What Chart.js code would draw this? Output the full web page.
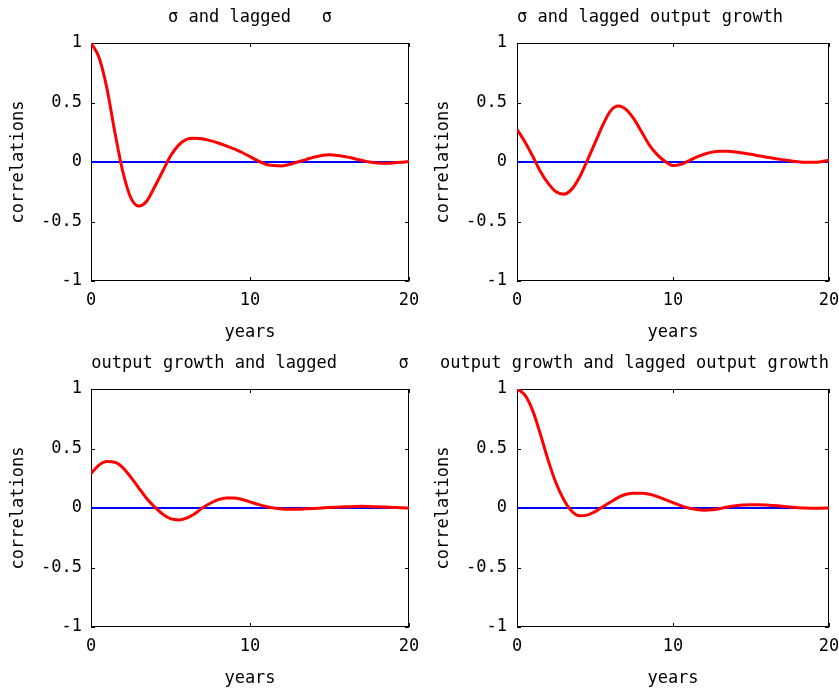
<!DOCTYPE html>
<html>
<head>
<meta charset="utf-8">
<script src="https://cdn.jsdelivr.net/npm/chart.js@4.4.1/dist/chart.umd.min.js"></script>
<style>
  body { margin: 0; background: #fff; }
  #wrap { position: relative; width: 839px; height: 695px; }
  canvas { position: absolute; }
</style>
</head>
<body>
<div id="wrap">
  <canvas id="c1" width="420" height="345" style="left:0;top:0"></canvas>
  <canvas id="c2" width="419" height="345" style="left:420px;top:0"></canvas>
  <canvas id="c3" width="420" height="345" style="left:0;top:346px"></canvas>
  <canvas id="c4" width="419" height="345" style="left:420px;top:346px"></canvas>
</div>
<script>
// lags in years
const lags = [0, 0.5, 1, 1.5, 2, 2.5, 3, 3.5, 4, 4.5, 5, 5.5, 6, 6.5, 7, 7.5, 8, 8.5, 9, 9.5, 10,
              10.5, 11, 11.5, 12, 12.5, 13, 13.5, 14, 14.5, 15, 15.5, 16, 16.5, 17, 17.5, 18, 18.5, 19, 19.5, 20];

const sigmaLagSigma = [1.0, 0.88, 0.62, 0.25, -0.08, -0.3, -0.37, -0.33, -0.21, -0.08, 0.05,
                       0.14, 0.19, 0.2, 0.195, 0.18, 0.16, 0.135, 0.11, 0.08, 0.045,
                       0.01, -0.02, -0.03, -0.033, -0.02, 0.0, 0.02, 0.04, 0.055, 0.06,
                       0.055, 0.045, 0.03, 0.015, 0.0, -0.008, -0.01, -0.008, -0.003, 0.005];

const sigmaLagGrowth = [0.275, 0.17, 0.05, -0.08, -0.18, -0.25, -0.27, -0.23, -0.13, 0.01, 0.16,
                        0.31, 0.43, 0.47, 0.44, 0.36, 0.25, 0.14, 0.06, 0.005, -0.03,
                        -0.02, 0.01, 0.04, 0.065, 0.083, 0.09, 0.09, 0.085, 0.075, 0.065,
                        0.052, 0.04, 0.03, 0.02, 0.01, 0.003, -0.002, -0.003, 0.003, 0.015];

const growthLagSigma = [0.29, 0.36, 0.39, 0.385, 0.34, 0.26, 0.17, 0.08, 0.01, -0.05, -0.09,
                        -0.1, -0.085, -0.05, 0.0, 0.04, 0.07, 0.085, 0.085, 0.072, 0.052,
                        0.03, 0.012, 0.0, -0.008, -0.01, -0.01, -0.007, -0.004, 0.0, 0.004,
                        0.007, 0.01, 0.012, 0.014, 0.013, 0.01, 0.008, 0.005, 0.002, 0.0];

const growthLagGrowth = [1.0, 0.95, 0.82, 0.62, 0.4, 0.21, 0.07, -0.025, -0.065, -0.06, -0.03,
                         0.01, 0.05, 0.09, 0.115, 0.125, 0.125, 0.115, 0.095, 0.07, 0.045,
                         0.02, 0.0, -0.012, -0.018, -0.015, -0.005, 0.008, 0.018, 0.025, 0.028,
                         0.028, 0.025, 0.02, 0.015, 0.008, 0.003, -0.001, -0.003, -0.002, 0.0];

const zeroLags = [0, 20];
const zeroValues = [0, 0];

const xTicks = [0, 10, 20];
const yTicks = [-1, -0.5, 0, 0.5, 1];

const FONT = "'DejaVu Sans Mono', monospace";

// box round the plot area with inward tick marks on all four sides
const boxTicks = {
    id: 'boxTicks',
    beforeDatasetsDraw(chart) {
        const { ctx, chartArea: a, scales: { x, y } } = chart;
        ctx.save();
        ctx.strokeStyle = '#000';
        ctx.lineWidth = 1;
        ctx.strokeRect(Math.round(a.left) + 0.5, Math.round(a.top) + 0.5,
                       Math.round(a.width) - 1, Math.round(a.height) - 1);
        ctx.beginPath();
        x.ticks.forEach(t => {
            const px = Math.round(x.getPixelForValue(t.value)) + 0.5;
            ctx.moveTo(px, a.bottom); ctx.lineTo(px, a.bottom - 4);
            ctx.moveTo(px, a.top); ctx.lineTo(px, a.top + 4);
        });
        y.ticks.forEach(t => {
            const py = Math.round(y.getPixelForValue(t.value)) + 0.5;
            ctx.moveTo(a.left, py); ctx.lineTo(a.left + 4, py);
            ctx.moveTo(a.right, py); ctx.lineTo(a.right - 4, py);
        });
        ctx.stroke();
        ctx.restore();
    }
};

function points(xs, ys) {
    return xs.map((v, i) => ({ x: v, y: ys[i] }));
}

function makePanel(id, title, values, cfg) {
    const ctx = document.getElementById(id).getContext('2d');
    return new Chart(ctx, {
        type: 'line',
        data: {
            datasets: [
                {
                    data: points(lags, values),
                    borderColor: '#ff0000',
                    borderWidth: 3,
                    pointRadius: 0,
                    cubicInterpolationMode: 'monotone',
                    fill: false
                },
                {
                    data: points(zeroLags, zeroValues),
                    borderColor: '#0000ff',
                    borderWidth: 2,
                    pointRadius: 0,
                    fill: false
                }
            ]
        },
        options: {
            responsive: false,
            animation: false,
            devicePixelRatio: 1,
            layout: { padding: { left: 0, right: cfg.padRight, top: 0, bottom: 0 } },
            plugins: {
                legend: { display: false },
                tooltip: { enabled: false },
                title: {
                    display: true,
                    text: title,
                    color: '#000',
                    align: cfg.align,
                    fullSize: cfg.fullSize,
                    font: { family: FONT, size: 17, weight: 'normal' },
                    padding: { top: 7, bottom: 15.6 }
                }
            },
            scales: {
                x: {
                    type: 'linear',
                    min: 0,
                    max: 20,
                    afterBuildTicks: s => { s.ticks = xTicks.map(v => ({ value: v })); },
                    afterFit: s => {
                        s.height = 64;
                        s.paddingLeft = 0;
                        s.paddingRight = 0;
                    },
                    grid: { display: false, drawTicks: false },
                    border: { display: false },
                    ticks: {
                        color: '#000',
                        padding: 9,
                        maxRotation: 0,
                        callback: v => String(v),
                        font: { family: FONT, size: 17 }
                    },
                    title: {
                        display: true,
                        text: 'years',
                        color: '#000',
                        font: { family: FONT, size: 17 },
                        padding: { top: 0, bottom: 2 }
                    }
                },
                y: {
                    type: 'linear',
                    min: -1,
                    max: 1,
                    afterBuildTicks: s => { s.ticks = yTicks.map(v => ({ value: v })); },
                    afterFit: s => { s.width = cfg.yWidth; },
                    grid: { display: false, drawTicks: false },
                    border: { display: false },
                    ticks: {
                        color: '#000',
                        padding: cfg.tickPad,
                        callback: v => String(v),
                        font: { family: FONT, size: 17 }
                    },
                    title: {
                        display: true,
                        text: 'correlations',
                        color: '#000',
                        font: { family: FONT, size: 17 },
                        padding: { top: cfg.titlePad, bottom: 0 }
                    }
                }
            }
        },
        plugins: [boxTicks]
    });
}

const leftCol = { yWidth: 91, padRight: 11, tickPad: 9, titlePad: 8 };
const rightCol = { yWidth: 97, padRight: 10, tickPad: 10, titlePad: 13 };

makePanel('c1', 'σ and lagged   σ', sigmaLagSigma,
          Object.assign({ align: 'center', fullSize: false }, leftCol));
makePanel('c2', 'σ and lagged output growth', sigmaLagGrowth,
          Object.assign({ align: 'start', fullSize: false }, rightCol));
makePanel('c3', 'output growth and lagged      σ', growthLagSigma,
          Object.assign({ align: 'center', fullSize: false }, leftCol));
makePanel('c4', 'output growth and lagged output growth', growthLagGrowth,
          Object.assign({ align: 'end', fullSize: true }, rightCol));
</script>
</body>
</html>
